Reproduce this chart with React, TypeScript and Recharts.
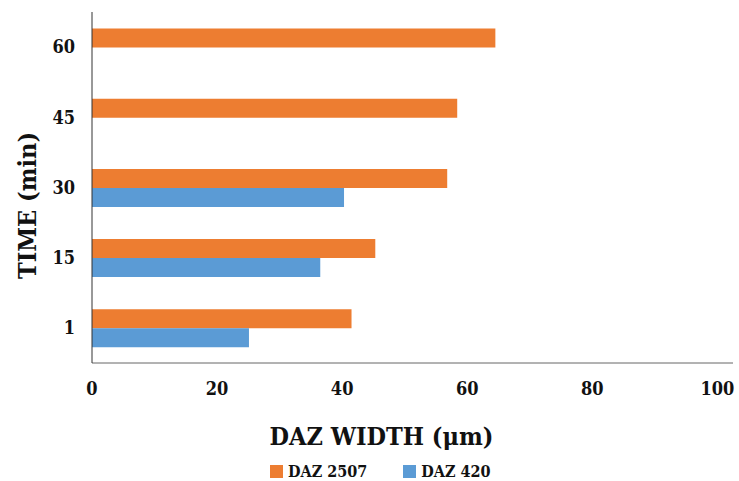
import React from 'react';
import { BarChart, Bar, XAxis, YAxis } from 'recharts';

// DAZ width (µm) per time (min)
const times = ['60', '45', '30', '15', '1'];
const daz2507 = [64.5, 58.4, 56.8, 45.3, 41.5];
const daz420: (number | null)[] = [null, null, 40.3, 36.5, 25.1];
const xTicks = [0, 20, 40, 60, 80, 100];

const seriesNames = ['DAZ 2507', 'DAZ 420'];
const seriesColors = ['#ED7D31', '#5B9BD5'];

const FONT = '"DejaVu Serif Condensed", "DejaVu Serif", serif';

const data = times.map((t, i) => ({ time: t, a: daz2507[i], b: daz420[i] }));

export default function App() {
  return (
    <div style={{ position: 'absolute', left: 0, top: 0, width: 739, height: 481, background: '#fff', fontFamily: FONT }}>
      <BarChart
        width={739}
        height={481}
        data={data}
        layout="vertical"
        margin={{ top: 12, right: 6, left: 0, bottom: 0 }}
        barCategoryGap="23.5%"
        barGap={0}
      >
        <XAxis
          type="number"
          domain={[0, 102.5]}
          ticks={xTicks}
          allowDataOverflow
          height={118}
          axisLine={{ stroke: '#666666' }}
          tickLine={false}
          tickSize={0}
          tickMargin={19}
          tick={{ fontSize: 18, fontWeight: 'bold', fill: '#111', fontFamily: FONT }}
          label={{
            content: ({ viewBox }: any) => (
              <text
                x={viewBox.x + viewBox.width / 2 - 31}
                y={viewBox.y + 82}
                textAnchor="middle"
                fontSize={25}
                fontWeight="bold"
                fill="#111"
                style={{ fontFamily: FONT }}
              >
                DAZ WIDTH (μm)
              </text>
            ),
          }}
        />
        <YAxis
          type="category"
          dataKey="time"
          width={92}
          axisLine={{ stroke: '#333333' }}
          tickLine={false}
          tickSize={0}
          tickMargin={17}
          tick={{ fontSize: 18, fontWeight: 'bold', fill: '#111', fontFamily: FONT }}
          label={{
            content: ({ viewBox }: any) => {
              const cx = viewBox.x + 27;
              const cy = viewBox.y + viewBox.height / 2 + 18;
              return (
                <text
                  x={cx}
                  y={cy}
                  transform={`rotate(-90, ${cx}, ${cy})`}
                  textAnchor="middle"
                  dominantBaseline="central"
                  fontSize={25}
                  fontWeight="bold"
                  fill="#111"
                  style={{ fontFamily: FONT }}
                >
                  TIME (min)
                </text>
              );
            },
          }}
        />
        <Bar dataKey="a" name={seriesNames[0]} fill={seriesColors[0]} isAnimationActive={false} />
        <Bar dataKey="b" name={seriesNames[1]} fill={seriesColors[1]} isAnimationActive={false} />
      </BarChart>
      <div
        style={{
          position: 'absolute',
          left: 270,
          top: 463,
          display: 'flex',
          alignItems: 'center',
          fontSize: 16,
          fontWeight: 'bold',
          color: '#111',
          lineHeight: '17px',
          whiteSpace: 'nowrap',
        }}
      >
        {seriesNames.map((n, i) => (
          <div key={n} style={{ display: 'flex', alignItems: 'center', marginRight: i === 0 ? 36 : 0 }}>
            <span style={{ display: 'inline-block', width: 13, height: 13, background: seriesColors[i], marginRight: 5 }} />
            <span>{n}</span>
          </div>
        ))}
      </div>
    </div>
  );
}
